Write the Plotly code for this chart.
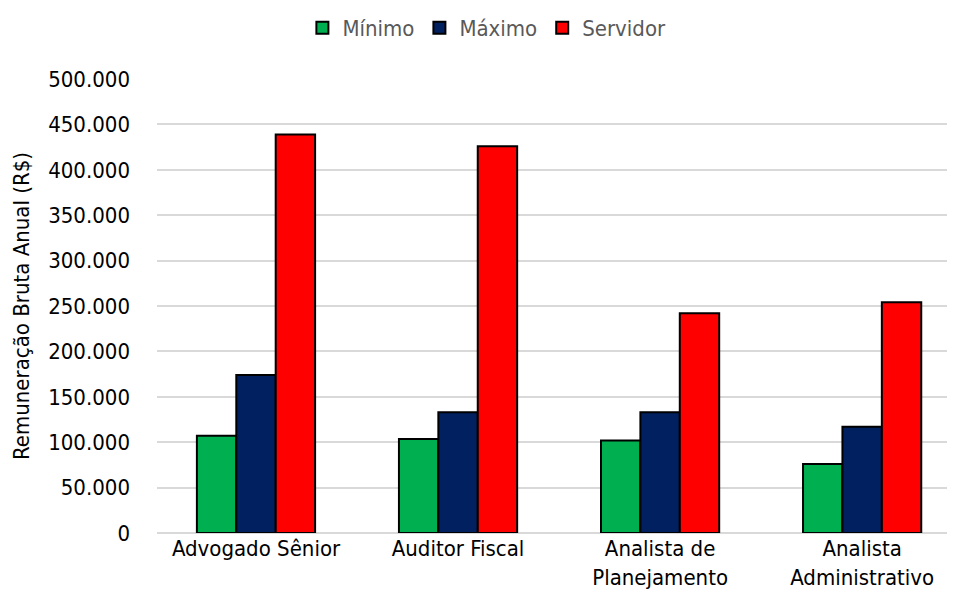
import plotly.graph_objects as go

C_MIN = '#00b050'
C_MAX = '#002060'
C_SRV = '#ff0000'
C_GRID = '#d9d9d9'
FONT = 'DejaVu Sans Condensed, Liberation Sans Narrow, Arial Narrow, sans-serif'

cargos = ['Advogado Sênior', 'Auditor Fiscal', 'Analista de<br>Planejamento',
          'Analista<br>Administrativo']
minimo = [107000, 103500, 102000, 76000]
maximo = [174000, 133000, 133000, 117000]
servidor = [439000, 426000, 242000, 254000]

series = [
    ('Mínimo', minimo, C_MIN),
    ('Máximo', maximo, C_MAX),
    ('Servidor', servidor, C_SRV),
]

fig = go.Figure()
for name, vals, color in series:
    fig.add_trace(go.Bar(
        name=name, x=cargos, y=vals,
        marker=dict(color=color, line=dict(color='#000000', width=2)),
    ))

# page body has an 8px margin, so the figure is sized to avoid scrollbars
fig.update_layout(
    width=939, height=590,
    paper_bgcolor='white', plot_bgcolor='white',
    font=dict(family=FONT, size=22, color='#000000'),
    margin=dict(l=149, r=0, t=71, b=65),
    barmode='group', bargap=0.415, bargroupgap=0,
    separators=',.',
    showlegend=True,
    legend=dict(orientation='h', xref='container', x=0.51, xanchor='center',
                yref='container', y=0.966, yanchor='middle',
                font=dict(size=22, color='#595959'),
                itemwidth=30, traceorder='normal'),
    xaxis=dict(range=[-0.49, 3.42], showgrid=False, showline=False,
               automargin=False, ticks='',
               tickfont=dict(size=22, color='#000000')),
    yaxis=dict(range=[0, 500000], dtick=50000, tickformat=',d',
               automargin=False,
               showgrid=True, gridcolor=C_GRID, gridwidth=2,
               zeroline=True, zerolinecolor=C_GRID, zerolinewidth=2,
               showline=False, ticks='', ticklabelstandoff=26,
               tickfont=dict(size=22, color='#000000'),
               title=dict(text='Remuneração Bruta Anual (R$)', standoff=12,
                          font=dict(size=22, color='#000000'))),
)

fig.write_html('out.html')
